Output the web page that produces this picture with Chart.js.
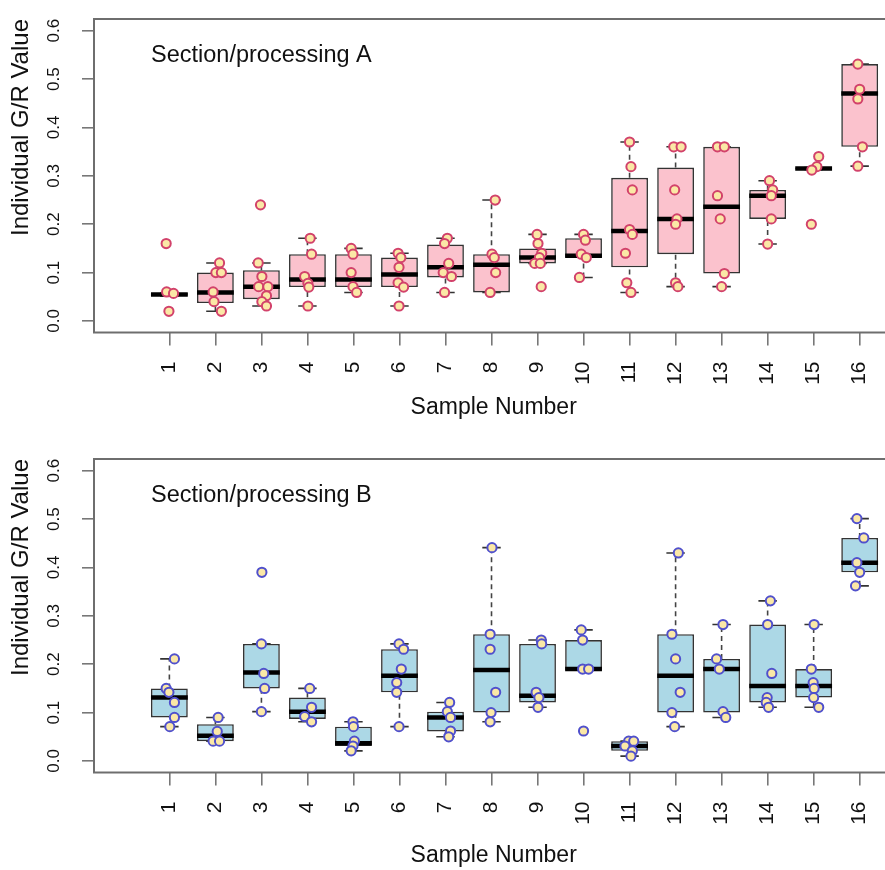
<!DOCTYPE html>
<html>
<head>
<meta charset="utf-8">
<script src="https://cdn.jsdelivr.net/npm/chart.js@4.4.1/dist/chart.umd.min.js"></script>
<style>
  html, body { margin: 0; padding: 0; background: #fff; overflow: hidden; }
  #wrap { position: relative; width: 885px; height: 870px; overflow: hidden; }
  canvas { position: absolute; left: 0; }
  #panelA { top: 0; }
  #panelB { top: 440px; }
</style>
</head>
<body>
<div id="wrap">
  <canvas id="panelA" width="900" height="440"></canvas>
  <canvas id="panelB" width="900" height="430"></canvas>
</div>
<script>
// sample numbers and y tick values
const samples = [1, 2, 3, 4, 5, 6, 7, 8, 9, 10, 11, 12, 13, 14, 15, 16];
const yTicks = [0, 0.1, 0.2, 0.3, 0.4, 0.5, 0.6];

// Section/processing A - box statistics
const aLow  = [0.052, 0.02, 0.031, 0.031, 0.059, 0.031, 0.059, 0.059, 0.119, 0.09, 0.059, 0.071, 0.071, 0.159, 0.313, 0.32];
const aQ1   = [0.052, 0.037, 0.045, 0.07, 0.07, 0.07, 0.09, 0.059, 0.119, 0.131, 0.111, 0.138, 0.098, 0.211, 0.313, 0.36];
const aMed  = [0.055, 0.059, 0.071, 0.086, 0.086, 0.096, 0.111, 0.116, 0.131, 0.135, 0.186, 0.211, 0.236, 0.259, 0.315, 0.47];
const aQ3   = [0.058, 0.10, 0.105, 0.138, 0.138, 0.131, 0.158, 0.138, 0.15, 0.171, 0.296, 0.317, 0.36, 0.271, 0.317, 0.531];
const aHigh = [0.058, 0.12, 0.12, 0.171, 0.15, 0.14, 0.171, 0.25, 0.179, 0.179, 0.37, 0.36, 0.36, 0.29, 0.317, 0.531];

// Section/processing A - individual values and their horizontal jitter
const aPoints = [
  [0.16, 0.06, 0.057, 0.02],
  [0.12, 0.10, 0.10, 0.06, 0.04, 0.02],
  [0.24, 0.12, 0.092, 0.071, 0.071, 0.052, 0.04, 0.031],
  [0.171, 0.138, 0.092, 0.078, 0.07, 0.031],
  [0.15, 0.138, 0.10, 0.071, 0.059],
  [0.14, 0.131, 0.111, 0.079, 0.07, 0.031],
  [0.171, 0.16, 0.119, 0.10, 0.092, 0.059],
  [0.25, 0.138, 0.131, 0.10, 0.059],
  [0.179, 0.16, 0.14, 0.131, 0.119, 0.119, 0.071],
  [0.179, 0.167, 0.138, 0.131, 0.09],
  [0.37, 0.319, 0.271, 0.189, 0.179, 0.14, 0.079, 0.059],
  [0.36, 0.36, 0.271, 0.211, 0.2, 0.079, 0.071],
  [0.36, 0.36, 0.259, 0.211, 0.098, 0.071],
  [0.29, 0.271, 0.259, 0.211, 0.159],
  [0.34, 0.319, 0.312, 0.2],
  [0.531, 0.479, 0.459, 0.36, 0.32]
];
const aJitter = [
  [-0.07, -0.06, 0.09, -0.01],
  [0.09, 0.01, 0.13, -0.05, -0.03, 0.13],
  [-0.02, -0.07, 0.01, -0.06, 0.14, 0.11, 0.01, 0.11],
  [0.06, 0.09, -0.06, 0.01, 0.03, 0.01],
  [-0.05, -0.01, -0.05, -0.01, 0.07],
  [-0.03, 0.03, -0.01, -0.03, 0.09, -0.01],
  [0.04, -0.02, 0.07, -0.05, 0.13, -0.02],
  [0.08, 0.01, 0.06, 0.09, -0.03],
  [-0.01, 0.01, 0.09, 0.04, -0.06, 0.06, 0.08],
  [0, 0.04, -0.05, 0.06, -0.09],
  [0, 0.03, 0.06, 0, 0.06, -0.09, -0.06, 0.03],
  [-0.04, 0.12, -0.02, 0.03, 0, 0, 0.05],
  [-0.09, 0.06, -0.09, -0.03, 0.06, 0],
  [0.04, 0.11, 0.08, 0.08, 0],
  [0.11, 0.07, -0.04, -0.05],
  [-0.04, 0, -0.04, 0.06, -0.04]
];

// Section/processing B - box statistics
const bLow  = [0.071, 0.041, 0.102, 0.081, 0.021, 0.071, 0.05, 0.081, 0.111, 0.188, 0.01, 0.071, 0.09, 0.111, 0.111, 0.362];
const bQ1   = [0.09, 0.041, 0.15, 0.087, 0.031, 0.142, 0.061, 0.10, 0.121, 0.188, 0.021, 0.10, 0.10, 0.121, 0.131, 0.39];
const bMed  = [0.131, 0.052, 0.183, 0.102, 0.0365, 0.176, 0.09, 0.188, 0.135, 0.19, 0.031, 0.176, 0.19, 0.155, 0.155, 0.41];
const bQ3   = [0.15, 0.076, 0.242, 0.131, 0.071, 0.231, 0.102, 0.262, 0.242, 0.25, 0.041, 0.262, 0.211, 0.282, 0.19, 0.461];
const bHigh = [0.211, 0.09, 0.242, 0.15, 0.081, 0.242, 0.121, 0.441, 0.25, 0.271, 0.041, 0.43, 0.282, 0.331, 0.282, 0.501];

// Section/processing B - individual values and their horizontal jitter
const bPoints = [
  [0.211, 0.15, 0.142, 0.121, 0.09, 0.071],
  [0.09, 0.061, 0.041, 0.041],
  [0.39, 0.242, 0.181, 0.15, 0.102],
  [0.15, 0.111, 0.092, 0.081],
  [0.081, 0.071, 0.041, 0.031, 0.021],
  [0.242, 0.231, 0.19, 0.162, 0.142, 0.071],
  [0.121, 0.102, 0.09, 0.062, 0.05],
  [0.441, 0.262, 0.231, 0.142, 0.10, 0.081],
  [0.25, 0.242, 0.142, 0.131, 0.111],
  [0.271, 0.25, 0.19, 0.19, 0.062],
  [0.041, 0.041, 0.031, 0.021, 0.01],
  [0.43, 0.262, 0.211, 0.142, 0.10, 0.071],
  [0.282, 0.211, 0.19, 0.102, 0.09],
  [0.331, 0.282, 0.181, 0.131, 0.121, 0.111],
  [0.282, 0.19, 0.162, 0.15, 0.131, 0.111],
  [0.501, 0.461, 0.41, 0.39, 0.362]
];
const bJitter = [
  [0.11, -0.07, -0.01, 0.11, 0.11, 0.01],
  [0.06, 0.04, -0.05, 0.09],
  [0.01, 0, 0.05, 0.07, 0],
  [0.05, 0.09, -0.06, 0.09],
  [-0.01, 0, 0.02, -0.01, -0.05],
  [-0.01, 0.09, 0.04, -0.06, -0.06, -0.01],
  [0.09, 0.04, 0.11, 0.11, 0.07],
  [0.01, -0.03, -0.03, 0.09, -0.01, -0.03],
  [0.08, 0.09, -0.03, 0.03, 0.01],
  [-0.05, -0.02, -0.02, 0.11, 0],
  [-0.02, 0.09, -0.1, 0.06, 0.03],
  [0.06, -0.08, 0, 0.1, -0.08, -0.02],
  [0.03, -0.11, -0.05, 0.03, 0.09],
  [0.06, 0, 0.09, -0.01, -0.03, 0.02],
  [0.01, -0.05, -0.01, 0.01, 0, 0.11],
  [-0.06, 0.09, -0.06, 0, -0.09]
];

const FONT = '"Liberation Sans", Arial, Helvetica, sans-serif';

// pixel half-width of a span given in x units, read through the x scale
const halfSpan = (chart, units) => {
  const x = chart.scales.x;
  return (x.getPixelForValue(1 + units) - x.getPixelForValue(1)) / 2;
};

// frame around the plot region plus the panel label
const framePlugin = {
  id: 'frame',
  beforeDatasetsDraw(chart, args, opts) {
    const { ctx, chartArea: a } = chart;
    ctx.save();
    ctx.strokeStyle = '#6e6e6e';
    ctx.lineWidth = 2;
    ctx.strokeRect(a.left, a.top, a.right - a.left, a.bottom - a.top);
    ctx.fillStyle = '#111';
    ctx.font = '23.5px ' + FONT;
    ctx.textBaseline = 'alphabetic';
    ctx.fillText(opts.label, a.left + 57, a.top + 43);
    ctx.restore();
  }
};

const makePanel = (canvasId, label, low, q1, med, q3, high, points, jitter, fill, dotEdge, titlePad) => {
  const canvas = document.getElementById(canvasId);
  const H = canvas.height;

  const boxes = samples.map((s, i) => ({ x: s, y: [q1[i], q3[i]] }));
  const medians = samples.map((s, i) => ({ x: s, y: med[i] }));
  const caps = [];
  const whiskers = [];
  samples.forEach((s, i) => {
    caps.push({ x: s, y: low[i] }, { x: s, y: high[i] });
    whiskers.push({ x: s, y: low[i] }, { x: s, y: q1[i] }, { x: s, y: null },
                  { x: s, y: q3[i] }, { x: s, y: high[i] }, { x: s, y: null });
  });
  const dots = [];
  samples.forEach((s, i) => {
    points[i].forEach((v, k) => dots.push({ x: s + jitter[i][k], y: v }));
  });

  return new Chart(canvas, {
    type: 'bar',
    data: {
      datasets: [
        {
          type: 'scatter',
          data: dots,
          order: 0,
          pointStyle: 'circle',
          pointRadius: 4.6,
          pointBackgroundColor: '#fbe8a6',
          pointBorderColor: dotEdge,
          pointBorderWidth: 2
        },
        {
          type: 'scatter',
          data: medians,
          order: 1,
          pointStyle: 'line',
          pointRadius: (ctx) => halfSpan(ctx.chart, 0.8),
          pointBorderColor: '#000',
          pointBorderWidth: 4.5
        },
        {
          type: 'scatter',
          data: caps,
          order: 2,
          pointStyle: 'line',
          pointRadius: (ctx) => halfSpan(ctx.chart, 0.4),
          pointBorderColor: '#333',
          pointBorderWidth: 1.6
        },
        {
          type: 'bar',
          data: boxes,
          order: 3,
          backgroundColor: fill,
          borderColor: '#333',
          borderWidth: 1.6,
          borderSkipped: false,
          barPercentage: 0.8,
          categoryPercentage: 1.0
        },
        {
          type: 'line',
          data: whiskers,
          order: 4,
          borderColor: '#444',
          borderWidth: 1.6,
          borderDash: [5, 4],
          pointRadius: 0,
          spanGaps: false,
          fill: false
        }
      ]
    },
    options: {
      responsive: false,
      animation: false,
      events: [],
      layout: { padding: { top: 19, left: 0, right: 0, bottom: 0 } },
      plugins: {
        legend: { display: false },
        tooltip: { enabled: false },
        frame: { label: label }
      },
      scales: {
        x: {
          type: 'linear',
          offset: false,
          min: -0.638,
          max: 16.733,
          afterBuildTicks: (scale) => { scale.ticks = samples.map(v => ({ value: v })); },
          afterFit: (scale) => {
            scale.height = H - 332.5;
            scale.paddingLeft = 0;
            scale.paddingRight = 0;
          },
          border: { display: false },
          grid: { display: true, offset: false, drawOnChartArea: false, drawTicks: true, tickLength: 13, color: '#777', lineWidth: 1.6 },
          ticks: {
            autoSkip: false,
            minRotation: 90,
            maxRotation: 90,
            padding: 16,
            color: '#111',
            font: { family: FONT, size: 21 },
            callback: (v) => String(v)
          },
          title: {
            display: true,
            text: 'Sample Number',
            color: '#111',
            font: { family: FONT, size: 23 },
            padding: { top: 0, bottom: titlePad }
          }
        },
        y: {
          type: 'linear',
          min: -0.0238,
          max: 0.6242,
          afterBuildTicks: (scale) => { scale.ticks = yTicks.map(v => ({ value: v })); },
          afterFit: (scale) => {
            scale.width = 94;
            scale.paddingTop = 0;
            scale.paddingBottom = 0;
          },
          border: { display: false },
          grid: { display: true, drawOnChartArea: false, drawTicks: true, tickLength: 12, color: '#777', lineWidth: 1.6 },
          ticks: {
            minRotation: 90,
            maxRotation: 90,
            crossAlign: 'center',
            padding: 16,
            color: '#111',
            font: { family: FONT, size: 17 },
            callback: (v) => v.toFixed(1)
          },
          title: {
            display: true,
            text: 'Individual G/R Value',
            align: 'end',
            color: '#111',
            font: { family: FONT, size: 24 },
            padding: { top: 7, bottom: 0 }
          }
        }
      }
    },
    plugins: [framePlugin]
  });
};

makePanel('panelA', 'Section/processing A', aLow, aQ1, aMed, aQ3, aHigh, aPoints, aJitter,
          '#fbc2cd', '#d2426b', 19);
makePanel('panelB', 'Section/processing B', bLow, bQ1, bMed, bQ3, bHigh, bPoints, bJitter,
          '#acd8e6', '#5050cc', 0.5);
</script>
</body>
</html>
